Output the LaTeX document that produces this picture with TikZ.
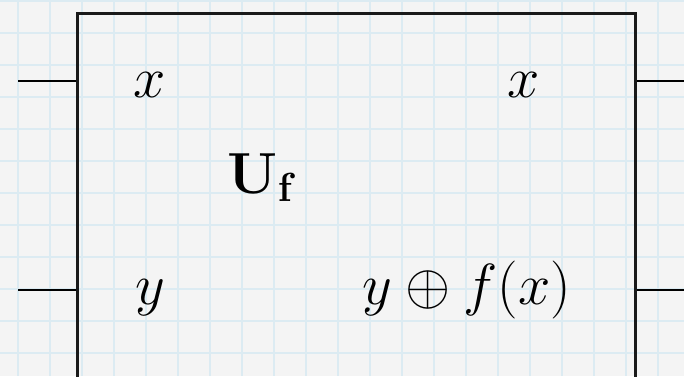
\RequirePackage{fix-cm}
\documentclass[tikz,border=0pt]{standalone}
\definecolor{bgc}{RGB}{244,244,244}
\definecolor{gridc}{RGB}{220,235,242}
\tikzset{
  wire/.style={line width=2.2pt, black},
  gatebox/.style={draw=black!90, line width=3pt, anchor=north west, inner sep=0pt,
    minimum width=558pt, minimum height=420pt},
  lbl/.style={anchor=base, inner sep=0pt, font=\fontsize{58}{60}\selectfont}
}
\begin{document}
\begin{tikzpicture}[x=1pt,y=-1pt]
\useasboundingbox (0,0) rectangle (684,376);
\clip (0,0) rectangle (684,376);
\fill[bgc] (0,0) rectangle (684,376);
\foreach \i in {0,...,21} {
  \draw[gridc, line width=1.8pt] ({-14+32*\i},0) -- ({-14+32*\i},376);
}
\foreach \j in {0,...,12} {
  \draw[gridc, line width=1.8pt] (0,{1+32*\j}) -- (684,{1+32*\j});
}
\node[gatebox] (box) at (76,12) {};
\coordinate (in1) at (18,81);
\coordinate (in2) at (18,290);
\coordinate (out1) at (684,81);
\coordinate (out2) at (684,290);
\draw[wire] (in1) -- (in1 -| box.west);
\draw[wire] (in2) -- (in2 -| box.west);
\draw[wire] (out1 -| box.east) -- (out1);
\draw[wire] (out2 -| box.east) -- (out2);
\node[lbl] (xin) at (150,97) {$x$};
\node[lbl] (xout) at (524,97) {$x$};
\node[lbl] (uf) at (262,193) {$\mathbf{U_f}$};
\node[lbl] (yin) at (150,304) {$y$};
\node[lbl] (yout) at (467,304) {$y\oplus f(x)$};
\end{tikzpicture}
\end{document}
